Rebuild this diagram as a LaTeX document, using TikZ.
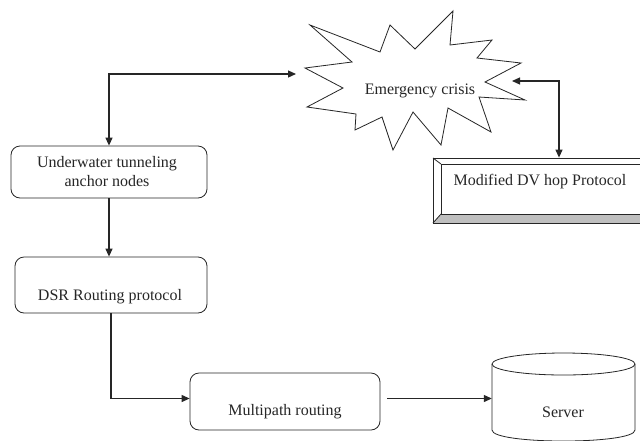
\documentclass[tikz,border=0pt]{standalone}
\usepackage{fontspec}
\setmainfont{Liberation Serif}
\usetikzlibrary{arrows.meta,calc}
\tikzset{
  box/.style={draw=black!85, line width=0.8pt, rounded corners=9pt, inner sep=0pt},
  plain/.style={draw=black!85, line width=0.8pt},
  txt/.style={inner sep=0pt, align=center, text=black!85},
  conn/.style={line width=1.2pt, draw=black!85, arrows={-Triangle[length=8pt,width=7pt]}},
  conn2/.style={line width=1.2pt, draw=black!85, arrows={Triangle[length=8pt,width=7pt]-Triangle[length=8pt,width=7pt]}}
}
\begin{document}
\begin{tikzpicture}[x=1pt,y=-1pt,font=\fontsize{16}{19}\selectfont]
\useasboundingbox (0,0) rectangle (640,440);
\fill[white] (0,0) rectangle (640,440);

% star burst
\draw[plain, line join=miter] (305,68) -- (352,62) -- (310,25) -- (380,52) -- (390,25) -- (415,49) -- (453,11) -- (450,45) -- (492,40) -- (477,58) -- (521,63) -- (485,82) -- (525,100) -- (479,97) -- (491,132) -- (448,108) -- (441,145) -- (413,112) -- (393,150) -- (382,117) -- (355,130) -- (356,114) -- (307,107) -- (343,88) -- cycle;
\node[txt] (crisis) at (420,91) {Emergency crisis};
\coordinate (crisisW) at (296,74);
\coordinate (crisisE) at (512,81);
\coordinate (bend2) at (559,81);

% boxes
\node[box, minimum width=196pt, minimum height=52pt] (ua) at (109,172) {};
\node[txt] (uat) at (107,172) {Underwater tunneling\\anchor nodes};

\node[box, minimum width=192pt, minimum height=56pt] (dsr) at (111,285) {};
\node[txt] (dsrt) at (110,297) {DSR Routing protocol};

\node[box, minimum width=190pt, minimum height=57pt] (mp) at (285,401.5) {};
\node[txt] (mpt) at (285,412) {Multipath routing};

% DV hop bevelled box
\node[draw=black!85, line width=0.8pt, inner sep=0pt, minimum width=217pt, minimum height=65pt] (dv) at (541.5,190.5) {};
\fill[black!25] (433,223) -- (650,223) -- (642,214) -- (441,214) -- cycle;
\draw[plain] (433,158) rectangle (650,223);
\draw[plain] (441,164) rectangle (642,214);
\draw[plain] (433,158) -- (441,164);
\draw[plain] (433,223) -- (441,214);
\node[txt] (dvt) at (540,182) {Modified DV hop Protocol};

% server cylinder
\node[inner sep=0pt, minimum width=143pt, minimum height=84pt] (server) at (563.5,395) {};
\fill[white] (492,364) -- (492,430) .. controls (492,444.7) and (635,444.7) .. (635,430) -- (635,364) -- cycle;
\draw[plain] (563.5,364) ellipse [x radius=71.5pt, y radius=11pt];
\draw[plain] (492,364) -- (492,430) .. controls (492,444.7) and (635,444.7) .. (635,430) -- (635,364);
\node[txt] (servert) at (563,412) {Server};

% connectors
\draw[conn2] (ua.north) |- (crisisW);
\draw[conn2] (crisisE) -- (bend2) -- (bend2 |- dv.north);
\draw[conn] (ua.south) -- (ua.south |- dsr.north);
\draw[conn] (dsr.south) |- ([yshift=3pt]mp.west);
\draw[conn] ([xshift=7pt,yshift=3pt]mp.east) -- ([yshift=3pt]mp.east -| server.west);
\end{tikzpicture}
\end{document}
